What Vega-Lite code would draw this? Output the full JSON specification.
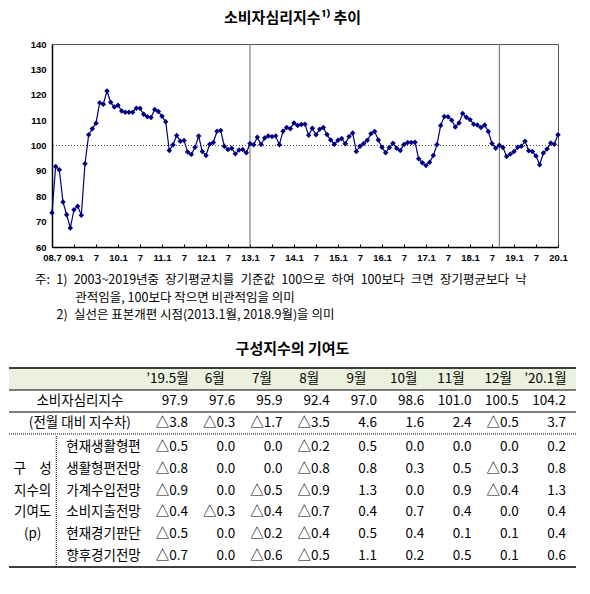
{
  "$schema": "https://vega.github.io/schema/vega-lite/v6.json",
  "padding": {"left": 8, "top": 10, "right": 0, "bottom": 0},
  "config": {
    "font": "Noto Sans CJK KR",
    "view": {"stroke": null},
    "title": {"color": "#000"},
    "text": {"color": "#000"},
    "locale": {"number": {"decimal": ".", "thousands": ",", "grouping": [3], "currency": ["", ""], "minus": "△"}}
  },
  "title": {"text": "소비자심리지수¹⁾ 추이", "fontSize": 15, "fontWeight": "bold", "anchor": "middle", "frame": "bounds", "offset": 13},
  "spacing": 20,
  "vconcat": [
    {
      "spacing": 0,
      "hconcat": [
        {"width": 0, "height": 203, "data": {"values": []}, "mark": "point"},
        {
          "width": 506,
          "height": 203,
          "view": {"stroke": "#555", "strokeWidth": 1},
          "title": {
            "text": [
              "주:\u20021)\u20022003~2019년중\u2002장기평균치를\u2002기준값\u2002100으로\u2002하여\u2002100보다\u2002크면\u2002장기평균보다\u2002낙",
              "\u2060\u3000\u3000\u3000 관적임을, 100보다 작으면 비관적임을 의미",
              "\u2060\u3000\u2002 2)\u2002실선은 표본개편 시점(2013.1월, 2018.9월)을 의미"
            ],
            "orient": "bottom",
            "anchor": "start",
            "frame": "bounds",
            "dx": 5,
            "offset": 12,
            "fontSize": 12.5,
            "fontWeight": "normal",
            "lineHeight": 17.5
          },
          "data": {"values": [
            {"ym": "2008-07", "v": 73.5}, {"ym": "2008-08", "v": 91.7}, {"ym": "2008-09", "v": 90.4}, {"ym": "2008-10", "v": 77.7},
            {"ym": "2008-11", "v": 72.7}, {"ym": "2008-12", "v": 67.5}, {"ym": "2009-01", "v": 74.7}, {"ym": "2009-02", "v": 76.1},
            {"ym": "2009-03", "v": 72.5}, {"ym": "2009-04", "v": 92.8}, {"ym": "2009-05", "v": 104.2}, {"ym": "2009-06", "v": 106.6},
            {"ym": "2009-07", "v": 108.8}, {"ym": "2009-08", "v": 116.8}, {"ym": "2009-09", "v": 116.3}, {"ym": "2009-10", "v": 121.5},
            {"ym": "2009-11", "v": 117.0}, {"ym": "2009-12", "v": 115.2}, {"ym": "2010-01", "v": 115.9}, {"ym": "2010-02", "v": 113.6},
            {"ym": "2010-03", "v": 113.1}, {"ym": "2010-04", "v": 113.1}, {"ym": "2010-05", "v": 113.1}, {"ym": "2010-06", "v": 114.7},
            {"ym": "2010-07", "v": 114.7}, {"ym": "2010-08", "v": 112.3}, {"ym": "2010-09", "v": 111.3}, {"ym": "2010-10", "v": 111.0},
            {"ym": "2010-11", "v": 114.2}, {"ym": "2010-12", "v": 113.4}, {"ym": "2011-01", "v": 111.5}, {"ym": "2011-02", "v": 109.4},
            {"ym": "2011-03", "v": 98.0}, {"ym": "2011-04", "v": 100.3}, {"ym": "2011-05", "v": 103.9}, {"ym": "2011-06", "v": 101.7},
            {"ym": "2011-07", "v": 102.0}, {"ym": "2011-08", "v": 97.4}, {"ym": "2011-09", "v": 96.5}, {"ym": "2011-10", "v": 99.3},
            {"ym": "2011-11", "v": 103.7}, {"ym": "2011-12", "v": 97.6}, {"ym": "2012-01", "v": 96.1}, {"ym": "2012-02", "v": 100.5},
            {"ym": "2012-03", "v": 101.2}, {"ym": "2012-04", "v": 105.6}, {"ym": "2012-05", "v": 105.9}, {"ym": "2012-06", "v": 99.7},
            {"ym": "2012-07", "v": 98.4}, {"ym": "2012-08", "v": 98.9}, {"ym": "2012-09", "v": 96.7}, {"ym": "2012-10", "v": 98.2},
            {"ym": "2012-11", "v": 98.4}, {"ym": "2012-12", "v": 97.1}, {"ym": "2013-01", "v": 100.8}, {"ym": "2013-02", "v": 100.3},
            {"ym": "2013-03", "v": 103.3}, {"ym": "2013-04", "v": 100.4}, {"ym": "2013-05", "v": 103.0}, {"ym": "2013-06", "v": 103.7},
            {"ym": "2013-07", "v": 103.5}, {"ym": "2013-08", "v": 103.7}, {"ym": "2013-09", "v": 100.3}, {"ym": "2013-10", "v": 105.6},
            {"ym": "2013-11", "v": 107.1}, {"ym": "2013-12", "v": 106.6}, {"ym": "2014-01", "v": 108.9}, {"ym": "2014-02", "v": 107.9},
            {"ym": "2014-03", "v": 108.3}, {"ym": "2014-04", "v": 108.4}, {"ym": "2014-05", "v": 104.0}, {"ym": "2014-06", "v": 106.8},
            {"ym": "2014-07", "v": 104.2}, {"ym": "2014-08", "v": 106.4}, {"ym": "2014-09", "v": 107.1}, {"ym": "2014-10", "v": 104.3},
            {"ym": "2014-11", "v": 102.2}, {"ym": "2014-12", "v": 100.5}, {"ym": "2015-01", "v": 102.1}, {"ym": "2015-02", "v": 102.8},
            {"ym": "2015-03", "v": 100.7}, {"ym": "2015-04", "v": 103.5}, {"ym": "2015-05", "v": 104.9}, {"ym": "2015-06", "v": 97.6},
            {"ym": "2015-07", "v": 99.7}, {"ym": "2015-08", "v": 100.8}, {"ym": "2015-09", "v": 102.1}, {"ym": "2015-10", "v": 104.6},
            {"ym": "2015-11", "v": 105.5}, {"ym": "2015-12", "v": 102.2}, {"ym": "2016-01", "v": 99.3}, {"ym": "2016-02", "v": 97.1},
            {"ym": "2016-03", "v": 99.2}, {"ym": "2016-04", "v": 100.9}, {"ym": "2016-05", "v": 98.9}, {"ym": "2016-06", "v": 98.0},
            {"ym": "2016-07", "v": 100.4}, {"ym": "2016-08", "v": 101.2}, {"ym": "2016-09", "v": 101.2}, {"ym": "2016-10", "v": 101.3},
            {"ym": "2016-11", "v": 94.8}, {"ym": "2016-12", "v": 93.2}, {"ym": "2017-01", "v": 92.1}, {"ym": "2017-02", "v": 93.4},
            {"ym": "2017-03", "v": 96.1}, {"ym": "2017-04", "v": 100.4}, {"ym": "2017-05", "v": 107.9}, {"ym": "2017-06", "v": 111.4},
            {"ym": "2017-07", "v": 111.3}, {"ym": "2017-08", "v": 110.0}, {"ym": "2017-09", "v": 107.3}, {"ym": "2017-10", "v": 108.9},
            {"ym": "2017-11", "v": 112.6}, {"ym": "2017-12", "v": 111.1}, {"ym": "2018-01", "v": 110.2}, {"ym": "2018-02", "v": 108.4},
            {"ym": "2018-03", "v": 108.1}, {"ym": "2018-04", "v": 107.1}, {"ym": "2018-05", "v": 108.1}, {"ym": "2018-06", "v": 105.5},
            {"ym": "2018-07", "v": 100.8}, {"ym": "2018-08", "v": 98.9}, {"ym": "2018-09", "v": 100.1}, {"ym": "2018-10", "v": 99.2},
            {"ym": "2018-11", "v": 95.7}, {"ym": "2018-12", "v": 96.6}, {"ym": "2019-01", "v": 97.6}, {"ym": "2019-02", "v": 99.3},
            {"ym": "2019-03", "v": 99.7}, {"ym": "2019-04", "v": 101.7}, {"ym": "2019-05", "v": 97.9}, {"ym": "2019-06", "v": 97.6},
            {"ym": "2019-07", "v": 95.9}, {"ym": "2019-08", "v": 92.4}, {"ym": "2019-09", "v": 97.0}, {"ym": "2019-10", "v": 98.6},
            {"ym": "2019-11", "v": 101.0}, {"ym": "2019-12", "v": 100.5}, {"ym": "2020-01", "v": 104.2}
          ]},
          "layer": [
            {
              "mark": {"type": "rule", "color": "#444", "strokeWidth": 0.8, "strokeDash": [1, 2]},
              "encoding": {
                "y": {
                  "datum": 100, "type": "quantitative",
                  "scale": {"domain": [60, 140], "nice": false, "zero": false},
                  "axis": {
                    "title": null,
                    "values": [60, 70, 80, 90, 100, 110, 120, 130, 140],
                    "ticks": false, "grid": false,
                    "labelFont": "Liberation Sans", "labelFontSize": 9.5, "labelFontWeight": "bold", "labelColor": "#000",
                    "labelPadding": 6, "minExtent": 22, "maxExtent": 22,
                    "domainColor": "#000", "domainWidth": 1.5
                  }
                }
              }
            },
            {
              "transform": [{"filter": {"field": "ym", "oneOf": ["2013-01", "2018-09"]}}],
              "mark": {"type": "rule", "color": "#666", "strokeWidth": 1},
              "encoding": {
                "x": {
                  "field": "ym", "type": "ordinal",
                  "scale": {"type": "point", "padding": 0},
                  "axis": {
                    "title": null,
                    "values": ["2008-07", "2009-01", "2009-07", "2010-01", "2010-07", "2011-01", "2011-07", "2012-01",
                               "2012-07", "2013-01", "2013-07", "2014-01", "2014-07", "2015-01", "2015-07", "2016-01",
                               "2016-07", "2017-01", "2017-07", "2018-01", "2018-07", "2019-01", "2019-07", "2020-01"],
                    "labelExpr": "datum.value == '2008-07' ? '08.7' : (substring(datum.value, 5, 7) == '01' ? substring(datum.value, 2, 4) + '.1' : '7')",
                    "labelAngle": 0, "labelOverlap": false,
                    "labelFont": "Liberation Sans", "labelFontSize": 9.5, "labelFontWeight": "bold", "labelColor": "#000",
                    "labelPadding": 8.5,
                    "domainColor": "#000", "domainWidth": 1.5,
                    "tickColor": "#000", "tickSize": -3, "grid": false
                  }
                }
              }
            },
            {
              "mark": {"type": "line", "color": "#000080", "strokeWidth": 1.2,
                       "point": {"shape": "diamond", "size": 30, "filled": true, "color": "#000080", "opacity": 1}},
              "encoding": {
                "x": {
                  "field": "ym", "type": "ordinal",
                  "scale": {"type": "point", "padding": 0},
                  "axis": {
                    "title": null,
                    "values": ["2008-07", "2009-01", "2009-07", "2010-01", "2010-07", "2011-01", "2011-07", "2012-01",
                               "2012-07", "2013-01", "2013-07", "2014-01", "2014-07", "2015-01", "2015-07", "2016-01",
                               "2016-07", "2017-01", "2017-07", "2018-01", "2018-07", "2019-01", "2019-07", "2020-01"],
                    "labelExpr": "datum.value == '2008-07' ? '08.7' : (substring(datum.value, 5, 7) == '01' ? substring(datum.value, 2, 4) + '.1' : '7')",
                    "labelAngle": 0, "labelOverlap": false,
                    "labelFont": "Liberation Sans", "labelFontSize": 9.5, "labelFontWeight": "bold", "labelColor": "#000",
                    "labelPadding": 8.5,
                    "domainColor": "#000", "domainWidth": 1.5,
                    "tickColor": "#000", "tickSize": -3, "grid": false
                  }
                },
                "y": {
                  "field": "v", "type": "quantitative",
                  "scale": {"domain": [60, 140], "nice": false, "zero": false},
                  "axis": {
                    "title": null,
                    "values": [60, 70, 80, 90, 100, 110, 120, 130, 140],
                    "ticks": false, "grid": false,
                    "labelFont": "Liberation Sans", "labelFontSize": 9.5, "labelFontWeight": "bold", "labelColor": "#000",
                    "labelPadding": 6, "minExtent": 22, "maxExtent": 22,
                    "domainColor": "#000", "domainWidth": 1.5
                  }
                }
              }
            }
          ]
        }
      ]
    },
    {
      "title": {"text": "구성지수의 기여도", "fontSize": 15, "fontWeight": "bold", "anchor": "middle", "offset": 10},
      "spacing": 0,
      "vconcat": [
        {
          "width": 567,
          "height": 66,
          "data": {"values": [
            {"item": "소비자심리지수", "month": "’19.5월", "value": 97.9},
            {"item": "소비자심리지수", "month": "6월", "value": 97.6},
            {"item": "소비자심리지수", "month": "7월", "value": 95.9},
            {"item": "소비자심리지수", "month": "8월", "value": 92.4},
            {"item": "소비자심리지수", "month": "9월", "value": 97.0},
            {"item": "소비자심리지수", "month": "10월", "value": 98.6},
            {"item": "소비자심리지수", "month": "11월", "value": 101.0},
            {"item": "소비자심리지수", "month": "12월", "value": 100.5},
            {"item": "소비자심리지수", "month": "’20.1월", "value": 104.2},
            {"item": "(전월 대비 지수차)", "month": "’19.5월", "value": -3.8},
            {"item": "(전월 대비 지수차)", "month": "6월", "value": -0.3},
            {"item": "(전월 대비 지수차)", "month": "7월", "value": -1.7},
            {"item": "(전월 대비 지수차)", "month": "8월", "value": -3.5},
            {"item": "(전월 대비 지수차)", "month": "9월", "value": 4.6},
            {"item": "(전월 대비 지수차)", "month": "10월", "value": 1.6},
            {"item": "(전월 대비 지수차)", "month": "11월", "value": 2.4},
            {"item": "(전월 대비 지수차)", "month": "12월", "value": -0.5},
            {"item": "(전월 대비 지수차)", "month": "’20.1월", "value": 3.7}
          ]},
          "layer": [
            {
              "transform": [{"filter": "datum.item == '소비자심리지수' && datum.month == '6월'"}],
              "mark": {"type": "rect", "color": "#ebf1de"},
              "encoding": {"y": {"datum": "월", "type": "nominal", "axis": null,
                "scale": {"type": "band", "domain": ["월", "소비자심리지수", "(전월 대비 지수차)"], "paddingInner": 0, "paddingOuter": 0}}}
            },
            {
              "transform": [{"filter": "datum.item == '소비자심리지수' && datum.month == '6월'"}],
              "mark": {"type": "rule", "color": "#000", "strokeWidth": 1.5},
              "encoding": {"y": {"datum": "월", "type": "nominal", "bandPosition": 0, "axis": null,
                "scale": {"type": "band", "domain": ["월", "소비자심리지수", "(전월 대비 지수차)"], "paddingInner": 0, "paddingOuter": 0}}}
            },
            {
              "transform": [{"filter": "datum.month == '6월'"}],
              "mark": {"type": "rule", "color": "#000", "strokeWidth": 1},
              "encoding": {"y": {"field": "item", "type": "nominal", "bandPosition": 0, "axis": null,
                "scale": {"type": "band", "domain": ["월", "소비자심리지수", "(전월 대비 지수차)"], "paddingInner": 0, "paddingOuter": 0}}}
            },
            {
              "transform": [{"filter": "datum.item == '(전월 대비 지수차)' && datum.month == '6월'"}],
              "mark": {"type": "rule", "color": "#000", "strokeWidth": 1, "strokeDash": [1, 1]},
              "encoding": {"y": {"field": "item", "type": "nominal", "bandPosition": 1, "axis": null,
                "scale": {"type": "band", "domain": ["월", "소비자심리지수", "(전월 대비 지수차)"], "paddingInner": 0, "paddingOuter": 0}}}
            },
            {
              "transform": [{"filter": "datum.item == '소비자심리지수'"}],
              "mark": {"type": "text", "fontSize": 13.5, "align": "center", "baseline": "middle", "dx": -7},
              "encoding": {
                "x": {"field": "month", "type": "nominal", "axis": null,
                  "scale": {"type": "band", "domain": ["구분", "항목", "항목명", "’19.5월", "6월", "7월", "8월", "9월", "10월", "11월", "12월", "’20.1월"], "paddingInner": 0, "paddingOuter": 0}},
                "y": {"datum": "월", "type": "nominal", "axis": null,
                  "scale": {"type": "band", "domain": ["월", "소비자심리지수", "(전월 대비 지수차)"], "paddingInner": 0, "paddingOuter": 0}},
                "text": {"field": "month"}
              }
            },
            {
              "transform": [{"filter": "datum.month == '6월'"}],
              "mark": {"type": "text", "fontSize": 13.5, "align": "center", "baseline": "middle"},
              "encoding": {
                "x": {"datum": "항목", "type": "nominal", "axis": null,
                  "scale": {"type": "band", "domain": ["구분", "항목", "항목명", "’19.5월", "6월", "7월", "8월", "9월", "10월", "11월", "12월", "’20.1월"], "paddingInner": 0, "paddingOuter": 0}},
                "y": {"field": "item", "type": "nominal", "axis": null,
                  "scale": {"type": "band", "domain": ["월", "소비자심리지수", "(전월 대비 지수차)"], "paddingInner": 0, "paddingOuter": 0}},
                "text": {"field": "item"}
              }
            },
            {
              "mark": {"type": "text", "fontSize": 13.5, "align": "right", "baseline": "middle", "dx": -10},
              "encoding": {
                "x": {"field": "month", "type": "nominal", "bandPosition": 1, "axis": null,
                  "scale": {"type": "band", "domain": ["구분", "항목", "항목명", "’19.5월", "6월", "7월", "8월", "9월", "10월", "11월", "12월", "’20.1월"], "paddingInner": 0, "paddingOuter": 0}},
                "y": {"field": "item", "type": "nominal", "axis": null,
                  "scale": {"type": "band", "domain": ["월", "소비자심리지수", "(전월 대비 지수차)"], "paddingInner": 0, "paddingOuter": 0}},
                "text": {"field": "value", "type": "quantitative", "format": ".1f"}
              }
            }
          ]
        },
        {
          "width": 567,
          "height": 131,
          "data": {"values": [
            {"item": "현재생활형편", "month": "’19.5월", "value": -0.5}, {"item": "현재생활형편", "month": "6월", "value": 0.0},
            {"item": "현재생활형편", "month": "7월", "value": 0.0}, {"item": "현재생활형편", "month": "8월", "value": -0.2},
            {"item": "현재생활형편", "month": "9월", "value": 0.5}, {"item": "현재생활형편", "month": "10월", "value": 0.0},
            {"item": "현재생활형편", "month": "11월", "value": 0.0}, {"item": "현재생활형편", "month": "12월", "value": 0.0},
            {"item": "현재생활형편", "month": "’20.1월", "value": 0.2},
            {"item": "생활형편전망", "month": "’19.5월", "value": -0.8}, {"item": "생활형편전망", "month": "6월", "value": 0.0},
            {"item": "생활형편전망", "month": "7월", "value": 0.0}, {"item": "생활형편전망", "month": "8월", "value": -0.8},
            {"item": "생활형편전망", "month": "9월", "value": 0.8}, {"item": "생활형편전망", "month": "10월", "value": 0.3},
            {"item": "생활형편전망", "month": "11월", "value": 0.5}, {"item": "생활형편전망", "month": "12월", "value": -0.3},
            {"item": "생활형편전망", "month": "’20.1월", "value": 0.8},
            {"item": "가계수입전망", "month": "’19.5월", "value": -0.9}, {"item": "가계수입전망", "month": "6월", "value": 0.0},
            {"item": "가계수입전망", "month": "7월", "value": -0.5}, {"item": "가계수입전망", "month": "8월", "value": -0.9},
            {"item": "가계수입전망", "month": "9월", "value": 1.3}, {"item": "가계수입전망", "month": "10월", "value": 0.0},
            {"item": "가계수입전망", "month": "11월", "value": 0.9}, {"item": "가계수입전망", "month": "12월", "value": -0.4},
            {"item": "가계수입전망", "month": "’20.1월", "value": 1.3},
            {"item": "소비지출전망", "month": "’19.5월", "value": -0.4}, {"item": "소비지출전망", "month": "6월", "value": -0.3},
            {"item": "소비지출전망", "month": "7월", "value": -0.4}, {"item": "소비지출전망", "month": "8월", "value": -0.7},
            {"item": "소비지출전망", "month": "9월", "value": 0.4}, {"item": "소비지출전망", "month": "10월", "value": 0.7},
            {"item": "소비지출전망", "month": "11월", "value": 0.4}, {"item": "소비지출전망", "month": "12월", "value": 0.0},
            {"item": "소비지출전망", "month": "’20.1월", "value": 0.4},
            {"item": "현재경기판단", "month": "’19.5월", "value": -0.5}, {"item": "현재경기판단", "month": "6월", "value": 0.0},
            {"item": "현재경기판단", "month": "7월", "value": -0.2}, {"item": "현재경기판단", "month": "8월", "value": -0.4},
            {"item": "현재경기판단", "month": "9월", "value": 0.5}, {"item": "현재경기판단", "month": "10월", "value": 0.4},
            {"item": "현재경기판단", "month": "11월", "value": 0.1}, {"item": "현재경기판단", "month": "12월", "value": 0.1},
            {"item": "현재경기판단", "month": "’20.1월", "value": 0.4},
            {"item": "향후경기전망", "month": "’19.5월", "value": -0.7}, {"item": "향후경기전망", "month": "6월", "value": 0.0},
            {"item": "향후경기전망", "month": "7월", "value": -0.6}, {"item": "향후경기전망", "month": "8월", "value": -0.5},
            {"item": "향후경기전망", "month": "9월", "value": 1.1}, {"item": "향후경기전망", "month": "10월", "value": 0.2},
            {"item": "향후경기전망", "month": "11월", "value": 0.5}, {"item": "향후경기전망", "month": "12월", "value": 0.1},
            {"item": "향후경기전망", "month": "’20.1월", "value": 0.6}
          ]},
          "layer": [
            {
              "transform": [{"filter": "datum.item == '향후경기전망' && datum.month == '6월'"}],
              "mark": {"type": "rule", "color": "#000", "strokeWidth": 1.5},
              "encoding": {"y": {"field": "item", "type": "nominal", "bandPosition": 1, "axis": null,
                "scale": {"type": "band", "domain": ["현재생활형편", "생활형편전망", "가계수입전망", "소비지출전망", "현재경기판단", "향후경기전망"], "paddingInner": 0, "paddingOuter": 0}}}
            },
            {
              "transform": [{"filter": "datum.item == '향후경기전망' && datum.month == '6월'"}],
              "mark": {"type": "rule", "color": "#000", "strokeWidth": 1, "strokeDash": [1, 1]},
              "encoding": {"x": {"datum": "항목", "type": "nominal", "bandPosition": 0, "axis": null,
                "scale": {"type": "band", "domain": ["구분", "항목", "항목명", "’19.5월", "6월", "7월", "8월", "9월", "10월", "11월", "12월", "’20.1월"], "paddingInner": 0, "paddingOuter": 0}}}
            },
            {
              "transform": [{"filter": "datum.item == '향후경기전망' && datum.month == '6월'"}],
              "mark": {"type": "text", "fontSize": 13.5, "align": "center", "baseline": "middle", "lineBreak": "\n", "lineHeight": 21.8},
              "encoding": {
                "x": {"datum": "구분", "type": "nominal", "axis": null,
                  "scale": {"type": "band", "domain": ["구분", "항목", "항목명", "’19.5월", "6월", "7월", "8월", "9월", "10월", "11월", "12월", "’20.1월"], "paddingInner": 0, "paddingOuter": 0}},
                "y": {"datum": "생활형편전망", "type": "nominal", "axis": null,
                  "scale": {"type": "band", "domain": ["현재생활형편", "생활형편전망", "가계수입전망", "소비지출전망", "현재경기판단", "향후경기전망"], "paddingInner": 0, "paddingOuter": 0}},
                "text": {"value": "구\u3000성\n지수의\n기여도\n(p)"}
              }
            },
            {
              "transform": [{"filter": "datum.month == '6월'"}],
              "mark": {"type": "text", "fontSize": 13.5, "align": "center", "baseline": "middle"},
              "encoding": {
                "x": {"datum": "항목명", "type": "nominal", "bandPosition": 0, "axis": null,
                  "scale": {"type": "band", "domain": ["구분", "항목", "항목명", "’19.5월", "6월", "7월", "8월", "9월", "10월", "11월", "12월", "’20.1월"], "paddingInner": 0, "paddingOuter": 0}},
                "y": {"field": "item", "type": "nominal", "axis": null,
                  "scale": {"type": "band", "domain": ["현재생활형편", "생활형편전망", "가계수입전망", "소비지출전망", "현재경기판단", "향후경기전망"], "paddingInner": 0, "paddingOuter": 0}},
                "text": {"field": "item"}
              }
            },
            {
              "mark": {"type": "text", "fontSize": 13.5, "align": "right", "baseline": "middle", "dx": -10},
              "encoding": {
                "x": {"field": "month", "type": "nominal", "bandPosition": 1, "axis": null,
                  "scale": {"type": "band", "domain": ["구분", "항목", "항목명", "’19.5월", "6월", "7월", "8월", "9월", "10월", "11월", "12월", "’20.1월"], "paddingInner": 0, "paddingOuter": 0}},
                "y": {"field": "item", "type": "nominal", "axis": null,
                  "scale": {"type": "band", "domain": ["현재생활형편", "생활형편전망", "가계수입전망", "소비지출전망", "현재경기판단", "향후경기전망"], "paddingInner": 0, "paddingOuter": 0}},
                "text": {"field": "value", "type": "quantitative", "format": ".1f"}
              }
            }
          ]
        }
      ]
    }
  ]
}
